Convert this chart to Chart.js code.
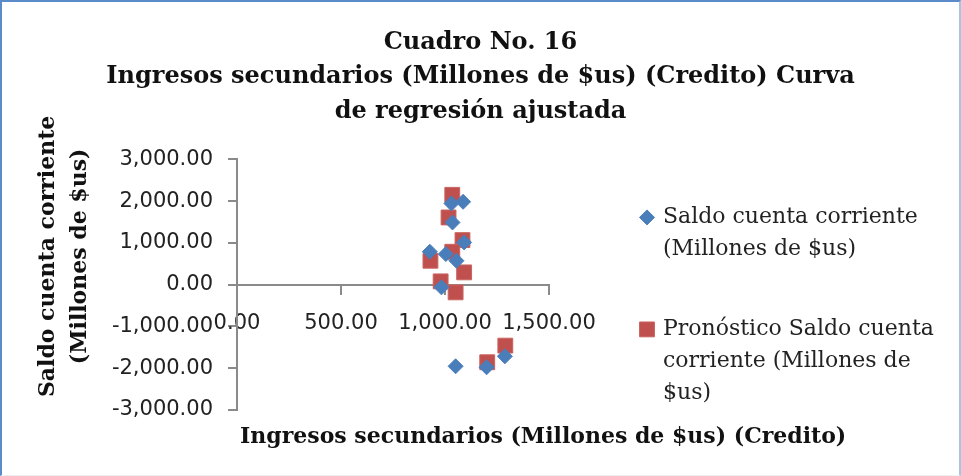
<!DOCTYPE html>
<html>
<head>
<meta charset="utf-8">
<script src="https://cdn.jsdelivr.net/npm/chart.js@4/dist/chart.umd.min.js"></script>
<style>
  html, body { margin: 0; padding: 0; background: #fff; }
  #wrap { position: relative; width: 961px; height: 476px; }
  #frame {
    position: absolute; left: 0; top: 0; width: 961px; height: 476px; box-sizing: border-box;
    border-top: 2px solid #5b8bc8; border-left: 2px solid #5b8bc8; border-right: 2px solid #a9c3e6;
    border-bottom: 1px solid #f0f0f0; pointer-events: none;
  }
</style>
</head>
<body>
<div id="wrap">
  <canvas id="chart" width="961" height="476"></canvas>
  <div id="frame"></div>
</div>
<script>
// Saldo cuenta corriente (observed)
const saldoX = [1031, 1087, 1036, 1092, 927, 1004, 1055, 983, 1051, 1200, 1288]
const saldoY = [1945, 1985, 1490, 1012, 789, 733, 574, -64, -1953, -1977, -1714]
// Pronostico (fitted curve)
const pronX = [1035, 1017, 1084, 1035, 930, 979, 1051, 1092, 1203, 1290]
const pronY = [2152, 1610, 1068, 789, 574, 80, -183, 295, -1857, -1459]

const titleLines = ['Cuadro No. 16', 'Ingresos secundarios (Millones de $us) (Credito) Curva', 'de regresión ajustada']
const xTitle = 'Ingresos secundarios (Millones de $us) (Credito)'
const yTitle = ['Saldo cuenta corriente', '(Millones de $us)']
const legendSaldo = ['Saldo cuenta corriente', '(Millones de $us)']
const legendPron = ['Pronóstico Saldo cuenta', 'corriente (Millones de', '$us)']

const blue = '#4a7ebb'
const red = '#c0504d'
const axisGrey = '#8a8a8a'

function toPoints(xs, ys) {
  return xs.map((x, i) => ({ x: x, y: ys[i] }))
}
function fmt(v) {
  return Number(v).toLocaleString('en-US', { minimumFractionDigits: 2, maximumFractionDigits: 2 })
}

// axis titles and a wrapped legend, placed like the Excel original
const extras = {
  id: 'extras',
  afterDraw(chart) {
    const ctx = chart.ctx
    const area = chart.chartArea
    ctx.save()
    ctx.textBaseline = 'middle'

    // x axis title, under the plot
    ctx.font = 'bold 22px "DejaVu Serif"'
    ctx.fillStyle = '#111'
    ctx.textAlign = 'left'
    ctx.fillText(xTitle, area.left + 3, area.bottom + 27)

    // y axis title, rotated
    ctx.save()
    ctx.translate(48, area.top + 97)
    ctx.rotate(-Math.PI / 2)
    ctx.textAlign = 'center'
    yTitle.forEach((line, i) => ctx.fillText(line, 0, i * 32))
    ctx.restore()

    // legend
    const mx = area.right + 98
    const tx = area.right + 114
    const lh = 32
    ctx.font = '22px "DejaVu Serif"'
    ctx.textAlign = 'left'
    const items = [
      { lines: legendSaldo, y: area.top + 58, ds: chart.data.datasets[0] },
      { lines: legendPron, y: area.top + 170, ds: chart.data.datasets[1] }
    ]
    items.forEach(it => {
      ctx.fillStyle = it.ds.backgroundColor
      ctx.strokeStyle = it.ds.borderColor
      ctx.lineWidth = 1
      Chart.helpers.drawPoint(ctx, { pointStyle: it.ds.pointStyle, radius: it.ds.pointRadius, rotation: 0, borderWidth: 1 }, mx, it.y)
      ctx.fillStyle = '#222'
      it.lines.forEach((line, i) => ctx.fillText(line, tx, it.y + i * lh))
    })
    ctx.restore()
  }
}

new Chart(document.getElementById('chart'), {
  type: 'scatter',
  data: {
    datasets: [
      {
        label: legendSaldo.join(' '),
        data: toPoints(saldoX, saldoY),
        pointStyle: 'rectRot',
        pointRadius: 7.5,
        backgroundColor: blue,
        borderColor: blue,
        borderWidth: 1
      },
      {
        label: legendPron.join(' '),
        data: toPoints(pronX, pronY),
        pointStyle: 'rect',
        pointRadius: 10.5,
        backgroundColor: red,
        borderColor: '#c96461',
        borderWidth: 1
      }
    ]
  },
  options: {
    responsive: false,
    animation: false,
    layout: { padding: 0 },
    scales: {
      x: {
        type: 'linear',
        position: { y: 0 },
        min: 0,
        max: 1500,
        border: { color: axisGrey, width: 2 },
        grid: { drawOnChartArea: false, color: axisGrey, lineWidth: 2, tickLength: 9 },
        ticks: {
          stepSize: 500,
          padding: 17,
          color: '#222',
          font: { family: '"DejaVu Sans"', size: 21 },
          maxRotation: 0,
          callback: v => fmt(v)
        }
      },
      y: {
        type: 'linear',
        position: 'left',
        min: -3000,
        max: 3000,
        border: { color: axisGrey, width: 2 },
        grid: { drawOnChartArea: false, color: axisGrey, lineWidth: 2, tickLength: 9 },
        ticks: {
          stepSize: 1000,
          padding: 15,
          color: '#222',
          font: { family: '"DejaVu Sans"', size: 21 },
          callback: v => fmt(v)
        },
        afterFit: s => { s.width = 237 }
      },
      xSpace: {
        type: 'linear',
        position: 'bottom',
        min: 0,
        max: 1,
        border: { display: false },
        grid: { display: false },
        ticks: { display: false },
        afterFit: s => { s.height = 66 }
      },
      legendSpace: {
        type: 'linear',
        position: 'right',
        min: 0,
        max: 1,
        border: { display: false },
        grid: { display: false },
        ticks: { display: false },
        afterFit: s => { s.width = 412 }
      }
    },
    plugins: {
      legend: { display: false },
      tooltip: { enabled: false },
      title: {
        display: true,
        text: titleLines,
        color: '#111',
        font: { family: '"DejaVu Serif"', size: 24, weight: 'bold', lineHeight: 1.45 },
        padding: { top: 25, bottom: 30 }
      }
    }
  },
  plugins: [extras]
})
</script>
</body>
</html>
